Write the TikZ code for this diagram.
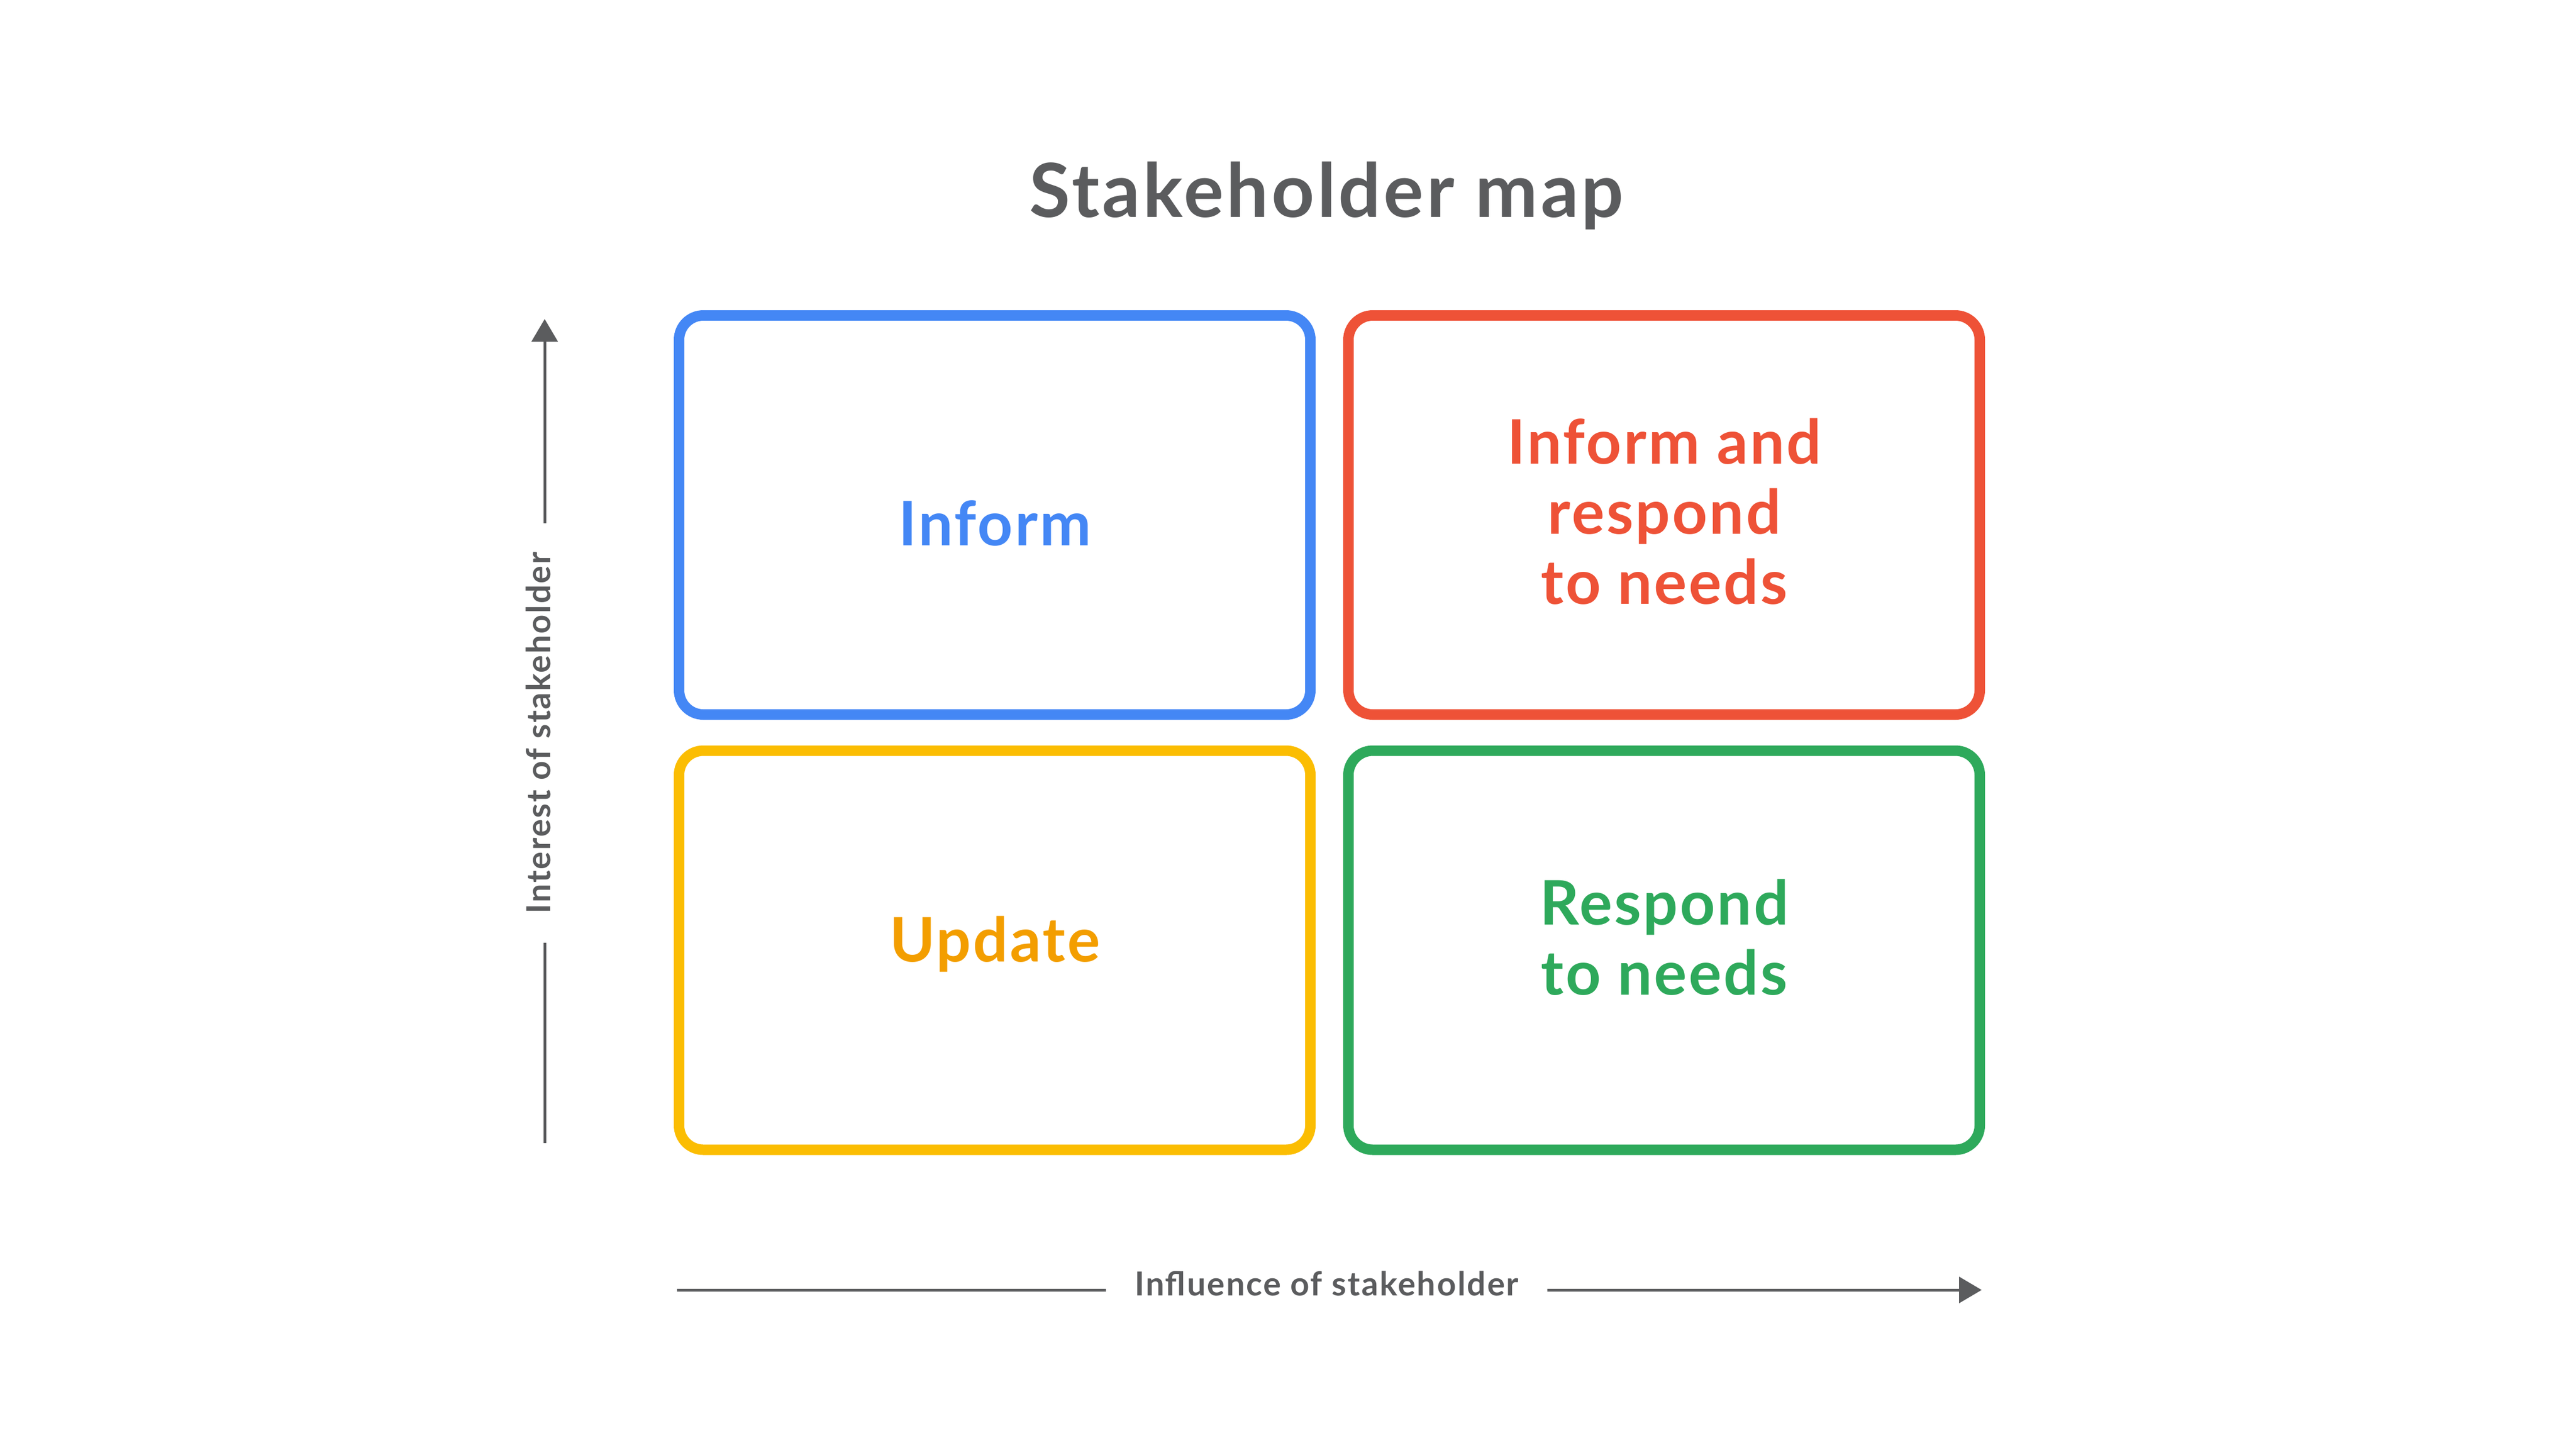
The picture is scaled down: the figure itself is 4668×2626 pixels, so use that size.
\documentclass[tikz,border=0pt]{standalone}
\usepackage{fontspec}
\setmainfont{Lato}
\usepackage{xcolor}
\usepackage{tikz}
\usetikzlibrary{arrows.meta}
\definecolor{mapgray}{HTML}{5B5C5E}
\definecolor{gblue}{HTML}{4487F5}
\definecolor{gred}{HTML}{EE5237}
\definecolor{gyellow}{HTML}{FBBD02}
\definecolor{gyellowtext}{HTML}{F39E00}
\definecolor{ggreen}{HTML}{2EA95B}
\tikzstyle{quad} = [rectangle, rounded corners=11pt, 
minimum width=286pt, 
minimum height=180.75pt,
inner sep=0pt, 
line width=4.75pt]
\tikzstyle{quadtext} = [font=\fontsize{27.8}{31.75}\selectfont\bfseries\addfontfeature{LetterSpace=3.2}, 
align=center, 
inner sep=0pt]
\tikzstyle{maptitle} = [font=\fontsize{33.8}{40}\selectfont\bfseries\addfontfeature{LetterSpace=3.8}, 
text=mapgray, 
inner sep=0pt]
\tikzstyle{axislabel} = [font=\fontsize{15}{18}\selectfont\bfseries\addfontfeature{LetterSpace=4.2}, 
text=mapgray, 
inner xsep=13pt, inner ysep=0pt, outer sep=0pt,
text height=0.74em, text depth=0.23em]
\tikzstyle{axis} = [line width=1.25pt, draw=mapgray]
\tikzstyle{arrow} = [axis, -{Triangle[length=10.25pt, width=11.75pt]}]

\begin{document}
\begin{tikzpicture}[x=0.25pt, y=-0.25pt]
\useasboundingbox (0,0) rectangle (4668,2626);
\node (title) [maptitle, anchor=base] at (2404,393) {Stakeholder map};

\node (inform) [quad, draw=gblue] at (1802.5,933) {};
\node (both) [quad, draw=gred] at (3015.5,933) {};
\node (update) [quad, draw=gyellow] at (1802.5,1721.5) {};
\node (respond) [quad, draw=ggreen] at (3015.5,1721.5) {};

\node (informtext) [quadtext, text=gblue, anchor=base] at (1803,988) {Inform};
\node (bothtext) [quadtext, text=gred] at (3016,926.5) {Inform and\\respond\\to needs};
\node (updatetext) [quadtext, text=gyellowtext, anchor=base] at (1803,1742) {Update};
\node (respondtext) [quadtext, text=ggreen] at (3016,1698.5) {Respond\\to needs};

\coordinate (ybottom) at (987,2071);
\coordinate (ytop) at (987,578);
\node (ylabel) [axislabel, rotate=90] at (987,1328) {Interest of stakeholder};
\draw [axis] (ybottom) -- (ylabel);
\draw [arrow] (ylabel) -- (ytop);

\coordinate (xleft) at (1227,2337);
\coordinate (xright) at (3591,2337);
\node (xlabel) [axislabel] at (2404,2337) {Influence of stakeholder};
\draw [axis] (xleft) -- (xlabel);
\draw [arrow] (xlabel) -- (xright);

\end{tikzpicture}
\end{document}
